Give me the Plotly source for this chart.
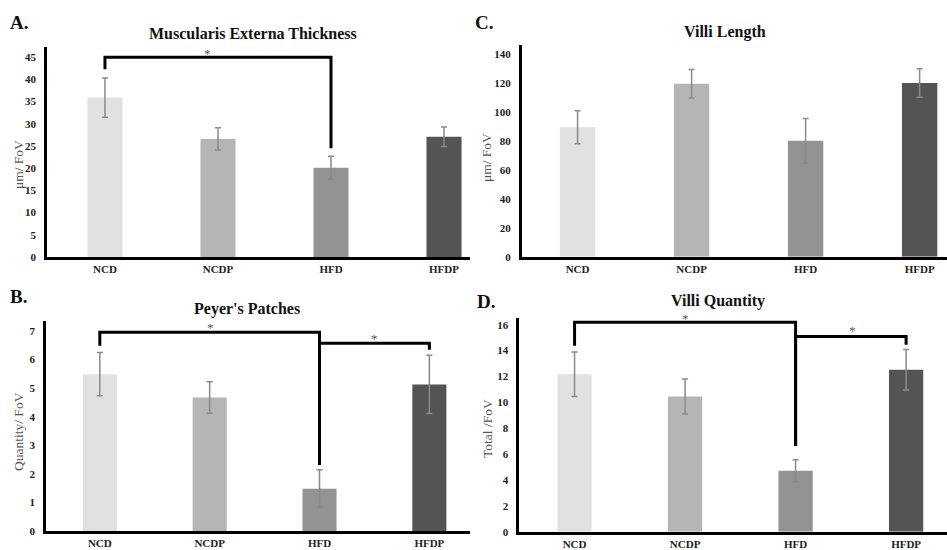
import plotly.graph_objects as go

categories = ["NCD", "NCDP", "HFD", "HFDP"]
bar_colors = ["#e1e1e1", "#b5b5b5", "#939393", "#545454"]

# Panel A: Muscularis Externa Thickness
musc_mean = [35.9, 26.6, 20.1, 27.1]
musc_err = [4.4, 2.5, 2.6, 2.2]
# Panel C: Villi Length
villi_len_mean = [89.5, 119.6, 80.2, 120.1]
villi_len_err = [11.4, 9.8, 15.3, 9.8]
# Panel B: Peyer's Patches
peyer_mean = [5.49, 4.67, 1.48, 5.13]
peyer_err = [0.76, 0.55, 0.66, 1.02]
# Panel D: Villi Quantity
villi_q_mean = [12.18, 10.45, 4.72, 12.52]
villi_q_err = [1.72, 1.35, 0.85, 1.57]

W, H = 947, 550
def dx(a, b):
    return [a / W, b / W]
def dy(top, bottom):
    return [1 - bottom / H, 1 - top / H]

panels = [
    dict(n="", mean=musc_mean, err=musc_err, xd=(47, 470), yd=(47, 257), xr=[-0.513, 3.23], yr=[0, 47.3], dt=5,
         title="Muscularis Externa Thickness", letter="A.", yt="μm/ FoV"),
    dict(n="2", mean=villi_len_mean, err=villi_len_err, xd=(521.7, 947), yd=(45, 256.7), xr=[-0.49, 3.24], yr=[0, 146.4], dt=20,
         title="Villi Length", letter="C.", yt="μm/ FoV"),
    dict(n="3", mean=peyer_mean, err=peyer_err, xd=(46, 470), yd=(320.7, 531), xr=[-0.49, 3.37], yr=[0, 7.36], dt=1,
         title="Peyer's Patches", letter="B.", yt="Quantity/ FoV"),
    dict(n="4", mean=villi_q_mean, err=villi_q_err, xd=(519.3, 947), yd=(318.3, 531.7), xr=[-0.50, 3.37], yr=[0, 16.5], dt=2,
         title="Villi Quantity", letter="D.", yt="Total /FoV"),
]

serif = "Liberation Serif, Times New Roman, serif"
fig = go.Figure()
layout = dict(width=W, height=H, autosize=False, margin=dict(l=0, r=0, t=0, b=0, pad=0),
              plot_bgcolor="white", paper_bgcolor="white", showlegend=False,
              font=dict(family=serif, color="#222222"))

for p in panels:
    n = p["n"]
    fig.add_trace(go.Bar(
        x=categories, y=p["mean"], width=0.31,
        marker=dict(color=bar_colors, line=dict(width=0)),
        error_y=dict(type="data", array=p["err"], visible=True, color="#8a8a8a", thickness=1.5, width=3),
        xaxis="x" + n, yaxis="y" + n,
    ))
    layout["xaxis" + n] = dict(domain=dx(*p["xd"]), range=p["xr"], anchor="y" + n, type="category",
                               showline=True, linewidth=2.5, linecolor="black", showgrid=False, zeroline=False,
                               ticks="", ticklen=0,
                               tickfont=dict(family=serif, size=11, color="#222222", weight="bold"),
                               automargin=False, ticklabelstandoff=0)
    layout["yaxis" + n] = dict(domain=dy(*p["yd"]), range=p["yr"], anchor="x" + n, dtick=p["dt"], tick0=0,
                               showline=True, linewidth=2.5, linecolor="black", showgrid=False, zeroline=False,
                               ticks="", ticklen=0,
                               tickfont=dict(family=serif, size=11, color="#222222", weight="bold"),
                               automargin=False, ticklabelstandoff=6)

annotations = []
title_pos = [(253, 33), (725, 32), (247, 309), (718, 301)]
letter_pos = [(8, 22), (473, 22), (8, 296), (475, 301)]
ytitle_pos = [(18, 165), (487, 157), (18, 432), (487, 428)]
for p, tp, lp, yp in zip(panels, title_pos, letter_pos, ytitle_pos):
    annotations.append(dict(text="<b>%s</b>" % p["title"], x=tp[0] / W, y=1 - tp[1] / H, xref="paper", yref="paper",
                            showarrow=False, font=dict(family=serif, size=16, color="#111111"),
                            xanchor="center", yanchor="middle"))
    annotations.append(dict(text="<b>%s</b>" % p["letter"], x=lp[0] / W, y=1 - lp[1] / H, xref="paper", yref="paper",
                            showarrow=False, font=dict(family=serif, size=19, color="#111111"),
                            xanchor="left", yanchor="middle"))
    annotations.append(dict(text=p["yt"], x=yp[0] / W, y=1 - yp[1] / H, xref="paper", yref="paper",
                            showarrow=False, textangle=-90, font=dict(family=serif, size=13.5, color="#555555"),
                            xanchor="center", yanchor="middle"))

shapes = []
def bracket(n, x0, x1, ytop, yl, yr, star_px, lw=3):
    xr, yrf = "x" + n, "y" + n
    shapes.append(dict(type="path", xref=xr, yref=yrf,
                       path="M %f,%f L %f,%f L %f,%f L %f,%f" % (x0, yl, x0, ytop, x1, ytop, x1, yr),
                       line=dict(color="black", width=lw)))
    annotations.append(dict(text="*", x=star_px[0] / W, y=1 - star_px[1] / H, xref="paper", yref="paper",
                            showarrow=False, font=dict(family=serif, size=13, color="#555555"),
                            xanchor="center", yanchor="middle"))

bracket("", 0, 2, 45.0, 42.3, 24.5, (207, 54))
bracket("3", 0, 2, 6.96, 6.48, 2.31, (210, 327))
bracket("3", 2, 3, 6.57, 2.31, 6.34, (374, 338))
bracket("4", 0, 2, 16.2, 14.37, 6.63, (685, 318))
bracket("4", 2, 3, 15.1, 6.63, 14.45, (852, 330))

layout["annotations"] = annotations
layout["shapes"] = shapes
fig.update_layout(**layout)
fig.write_html("out.html", config={"displayModeBar": False},
               post_script="document.body.style.margin='0px';document.body.style.overflow='hidden';")
